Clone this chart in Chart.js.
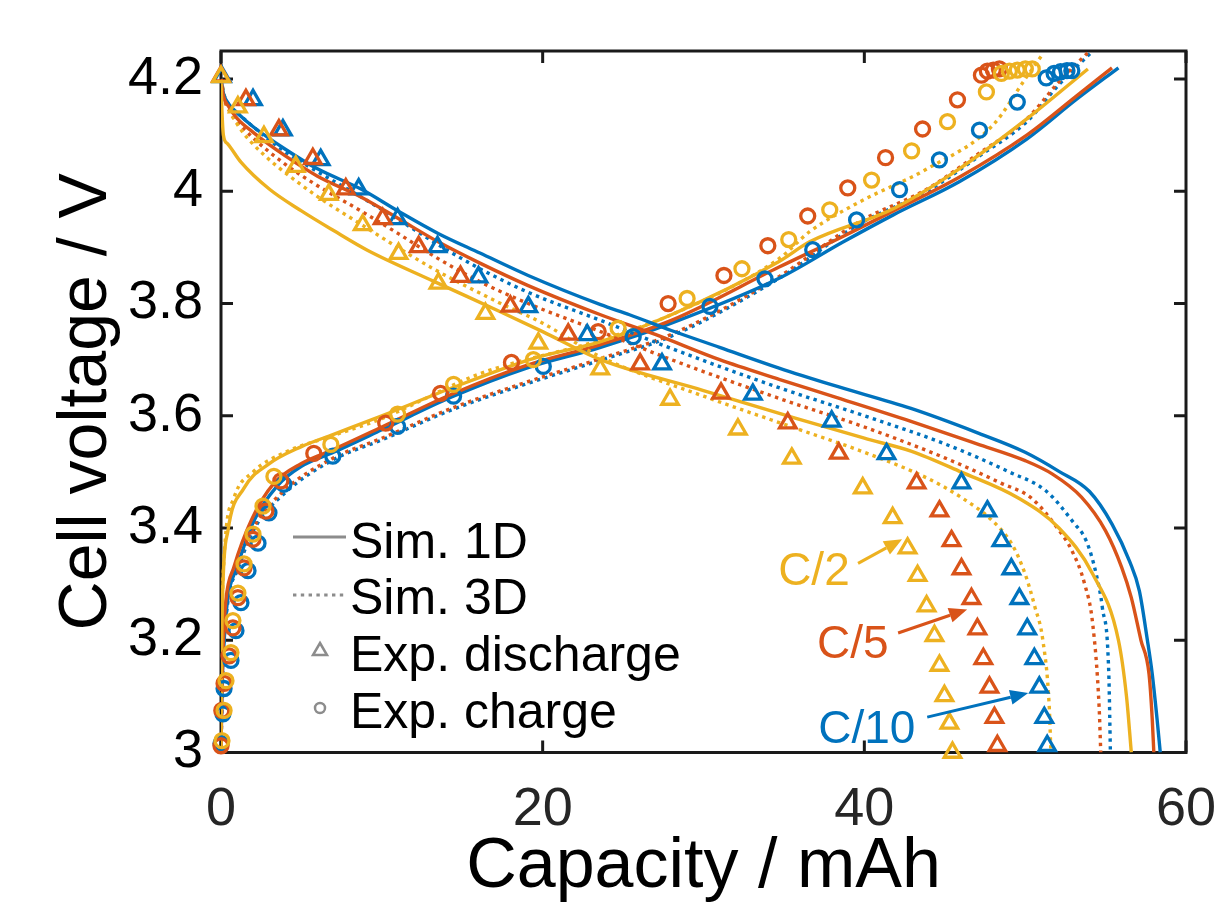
<!DOCTYPE html>
<html>
<head>
<meta charset="utf-8">
<title>Cell voltage vs capacity</title>
<script src="https://cdn.jsdelivr.net/npm/chart.js@4.4.1/dist/chart.umd.min.js"></script>
<style>
  body { margin: 0; background: #fff; }
  #wrap { width: 1221px; height: 910px; }
</style>
</head>
<body>
<div id="wrap"><canvas id="kurve" width="1221" height="910"></canvas></div>
<script>
// Axes
const capTicks = [0, 20, 40, 60];
const voltTicks = [3, 3.2, 3.4, 3.6, 3.8, 4, 4.2];
const voltTickLabels = ['3', '3.2', '3.4', '3.6', '3.8', '4', '4.2'];

// C-rates and colours
const rates = ['C/10', 'C/5', 'C/2'];
const rateColors = ['#0072BD', '#D95319', '#EDB120'];

// Simulated discharge, 1D (solid)  [capacity mAh, voltage V]
const dis1D_C10 = [[0,4.2],[0.15,4.175],[0.5,4.155],[1,4.14],[2,4.115],[4,4.075],[6,4.04],[8.7,4.004],[11,3.965],[13.5,3.925],[16.1,3.89],[19.1,3.85],[23.6,3.798],[25.4,3.78],[28,3.752],[31,3.722],[34.7,3.685],[38,3.655],[42.9,3.613],[47,3.57],[50,3.535],[52.1,3.501],[54,3.465],[55.4,3.407],[56.5,3.34],[57.1,3.288],[57.6,3.2],[57.9,3.14],[58.2,3.06],[58.4,3.0]];
const dis1D_C5 = [[0,4.2],[0.15,4.17],[0.5,4.15],[1,4.13],[2,4.105],[4,4.063],[6,4.027],[8.7,3.99],[11,3.952],[13.5,3.91],[16.1,3.872],[19.1,3.832],[23.6,3.78],[27,3.745],[31,3.70],[34.7,3.665],[38,3.635],[42.9,3.59],[47,3.55],[50,3.52],[51.7,3.496],[53.5,3.455],[55,3.395],[56,3.33],[56.6,3.276],[57.2,3.2],[57.7,3.14],[57.9,3.06],[58,3.0]];
const dis1D_C2 = [[0,4.2],[0.05,4.15],[0.15,4.1],[0.4,4.085],[1.24,4.052],[3,4.004],[5,3.965],[7,3.93],[9.1,3.895],[13.2,3.84],[17.4,3.785],[20,3.75],[23.6,3.70],[30,3.645],[35.7,3.596],[40,3.56],[42.9,3.537],[46,3.5],[49.6,3.453],[52.1,3.40],[54.2,3.318],[55.8,3.2],[56.3,3.1],[56.6,3.0]];

// Simulated discharge, 3D (dotted)
const dis3D_C10 = [[0,4.2],[0.2,4.17],[0.6,4.15],[1,4.14],[2,4.115],[4,4.07],[6,4.035],[8.7,3.99],[11,3.95],[13.5,3.905],[16.1,3.862],[19.1,3.82],[23.6,3.77],[28,3.72],[34.7,3.65],[40,3.60],[45,3.55],[49,3.50],[51.3,3.466],[53,3.41],[53.8,3.377],[54.4,3.32],[54.8,3.258],[55.2,3.14],[55.3,3.0]];
const dis3D_C5 = [[0,4.2],[0.2,4.165],[0.6,4.14],[1,4.125],[2,4.095],[4,4.048],[6,4.01],[8.7,3.965],[11,3.925],[13.5,3.88],[16.1,3.839],[19.1,3.80],[23.6,3.75],[28,3.70],[34.7,3.631],[40,3.58],[45,3.525],[48.5,3.48],[50.4,3.453],[52,3.40],[52.9,3.36],[53.7,3.3],[54.2,3.229],[54.6,3.08],[54.7,3.0]];
const dis3D_C2 = [[0,4.2],[0.3,4.16],[1,4.12],[1.86,4.088],[4.96,4.012],[9.1,3.934],[13.2,3.862],[17.4,3.80],[20,3.765],[23.6,3.705],[30,3.635],[35.7,3.578],[40,3.535],[43.9,3.489],[46,3.455],[48,3.412],[49.2,3.37],[50,3.318],[50.6,3.26],[51.1,3.2],[51.5,3.08],[51.6,3.0]];

// Simulated charge, 1D (solid)
const cha1D_C10 = [[0,3.0],[0.05,3.1],[0.2,3.2],[0.4,3.27],[1,3.33],[2,3.41],[3.5,3.475],[5,3.51],[7,3.535],[10,3.575],[14.3,3.633],[19,3.685],[23.6,3.722],[28,3.765],[34.7,3.845],[38.7,3.91],[41.8,3.958],[45.9,4.017],[50.1,4.093],[53.2,4.164],[55.8,4.22]];
const cha1D_C5 = [[0,3.0],[0.05,3.1],[0.15,3.2],[0.3,3.27],[0.8,3.33],[1.9,3.415],[3.3,3.48],[5,3.515],[7,3.54],[10,3.58],[14.3,3.638],[19,3.69],[23.6,3.727],[28,3.77],[34.7,3.865],[38.7,3.92],[41.8,3.965],[45.9,4.025],[50.1,4.10],[53.2,4.17],[55.4,4.22]];
const cha1D_C2 = [[0,3.0],[0.02,3.1],[0.05,3.2],[0.12,3.3],[0.43,3.395],[1.43,3.471],[2.92,3.513],[5,3.545],[7,3.567],[10,3.60],[14.3,3.649],[19.4,3.702],[23.6,3.732],[28,3.78],[34.7,3.875],[36.6,3.91],[41.8,3.969],[45.9,4.04],[50.1,4.129],[53.9,4.218]];

// Simulated charge, 3D (dotted)
const cha3D_C10 = [[0,3.0],[0.1,3.14],[0.35,3.25],[1.1,3.33],[2.1,3.4],[4,3.463],[7,3.522],[10,3.557],[14.3,3.61],[19,3.657],[23.6,3.699],[28,3.742],[34.7,3.845],[39.7,3.942],[43.9,4.0],[47,4.06],[50.1,4.124],[52.1,4.19],[54.2,4.25]];
const cha3D_C5 = [[0,3.0],[0.1,3.15],[0.3,3.25],[1,3.33],[2,3.4],[3.9,3.466],[7,3.525],[10,3.56],[14.3,3.613],[19,3.66],[23.6,3.702],[28,3.745],[34.7,3.848],[39.7,3.946],[43.9,4.004],[47,4.065],[50.1,4.129],[52.1,4.195],[54,4.25]];
const cha3D_C2 = [[0,3.0],[0.05,3.2],[0.2,3.35],[0.8,3.453],[2,3.5],[4,3.535],[7,3.565],[10,3.595],[16.1,3.675],[23.6,3.735],[28,3.78],[34.7,3.88],[36.6,3.928],[39.7,3.981],[43.9,4.04],[48,4.118],[50,4.2],[51.1,4.245]];

// Experiment, discharge (triangles)
const expDis_C10 = [[0.06,4.204],[1.99,4.163],[3.85,4.109],[6.2,4.056],[8.56,4.004],[10.98,3.951],[13.46,3.901],[16.01,3.847],[19.11,3.794],[22.77,3.744],[27.42,3.692],[33.07,3.638],[37.97,3.59],[41.38,3.532],[46.04,3.48],[47.65,3.43],[48.52,3.377],[49.14,3.327],[49.64,3.274],[50.13,3.22],[50.57,3.167],[50.88,3.116],[51.19,3.062],[51.37,3.012]];
const expDis_C5 = [[0,4.205],[1.55,4.163],[3.6,4.109],[5.71,4.058],[7.76,4.004],[10.05,3.951],[12.29,3.901],[14.89,3.848],[17.99,3.795],[21.59,3.745],[26.06,3.692],[31.09,3.64],[35.24,3.587],[38.41,3.533],[43.25,3.48],[44.67,3.43],[45.42,3.377],[46.04,3.327],[46.66,3.274],[47.03,3.22],[47.4,3.167],[47.78,3.116],[48.09,3.062],[48.27,3.012]];
const expDis_C2 = [[0,4.204],[1.05,4.15],[2.67,4.097],[4.65,4.044],[6.7,3.994],[8.81,3.94],[11.04,3.889],[13.52,3.836],[16.44,3.782],[19.73,3.729],[23.58,3.683],[27.92,3.629],[32.14,3.576],[35.49,3.524],[39.9,3.471],[41.76,3.418],[42.69,3.364],[43.31,3.315],[43.87,3.261],[44.36,3.208],[44.67,3.155],[44.98,3.101],[45.29,3.052],[45.48,3.0]];

// Experiment, charge (circles)
const expCha_C10 = [[0,3.016],[0.12,3.069],[0.19,3.114],[0.62,3.164],[0.93,3.217],[1.24,3.267],[1.68,3.324],[2.3,3.373],[2.98,3.427],[3.91,3.478],[6.95,3.528],[10.98,3.581],[14.46,3.635],[20.04,3.688],[25.63,3.741],[30.4,3.795],[33.82,3.844],[36.79,3.896],[39.52,3.949],[42.19,4.003],[44.67,4.056],[47.16,4.109],[49.51,4.159],[51.31,4.202],[51.8,4.21],[52.2,4.213],[52.6,4.215],[52.9,4.215]];
const expCha_C5 = [[0,3.012],[0.05,3.075],[0.19,3.123],[0.5,3.172],[0.74,3.222],[1.05,3.276],[1.43,3.329],[1.99,3.38],[2.79,3.43],[3.72,3.484],[5.77,3.533],[10.24,3.587],[13.65,3.64],[18.06,3.695],[23.45,3.75],[27.8,3.8],[31.27,3.85],[34.0,3.903],[36.48,3.956],[38.97,4.006],[41.32,4.06],[43.62,4.111],[45.79,4.163],[47.28,4.207],[47.65,4.214],[48.02,4.216],[48.4,4.218]];
const expCha_C2 = [[0.06,3.021],[0.19,3.075],[0.31,3.128],[0.62,3.178],[0.74,3.235],[1.05,3.284],[1.43,3.336],[1.99,3.389],[2.61,3.439],[3.29,3.492],[6.83,3.549],[10.98,3.603],[14.46,3.656],[19.42,3.7],[24.69,3.756],[28.98,3.809],[32.39,3.862],[35.3,3.914],[37.85,3.967],[40.45,4.02],[42.94,4.072],[45.17,4.124],[47.59,4.177],[48.52,4.21],[49.02,4.214],[49.51,4.216],[50.01,4.218],[50.44,4.218]];

// Rate labels with arrows: text anchor, arrow start, arrow end (data coords)
const labelPos = [[37.13,3.017],[37.06,3.168],[34.64,3.298]];
const arrowFrom = [[43.91,3.063],[42.10,3.213],[39.61,3.337]];
const arrowTo = [[50.19,3.106],[46.39,3.255],[42.35,3.380]];

const legendItems = ['Sim. 1D', 'Sim. 3D', 'Exp. discharge', 'Exp. charge'];

const FONT = "'Liberation Sans', Arial, Helvetica, sans-serif";

function toXY(points) {
  return points.map(p => ({x: p[0], y: p[1]}));
}

function simLine(points, color, dotted) {
  return {
    data: toXY(points),
    showLine: true,
    borderColor: color,
    borderWidth: 3.4,
    borderDash: dotted ? [3.4, 4.4] : [],
    cubicInterpolationMode: 'monotone',
    pointRadius: 0,
    order: 2
  };
}

function expPoints(points, color, style) {
  return {
    data: toXY(points),
    showLine: false,
    pointStyle: style,
    pointRadius: style === 'triangle' ? 9.5 : 7,
    pointBorderWidth: 3.3,
    pointBorderColor: color,
    pointBackgroundColor: 'rgba(0,0,0,0)',
    clip: false,
    order: 1
  };
}

const sims = [
  [dis1D_C10, dis1D_C5, dis1D_C2, false],
  [dis3D_C10, dis3D_C5, dis3D_C2, true],
  [cha1D_C10, cha1D_C5, cha1D_C2, false],
  [cha3D_C10, cha3D_C5, cha3D_C2, true]
];
const datasets = [];
sims.forEach(s => {
  for (let i = 2; i >= 0; i--) datasets.push(simLine(s[i], rateColors[i], s[3]));
});
const exps = [[expDis_C10, expDis_C5, expDis_C2, 'triangle'], [expCha_C10, expCha_C5, expCha_C2, 'circle']];
exps.forEach(s => {
  for (let i = 2; i >= 0; i--) datasets.push(expPoints(s[i], rateColors[i], s[3]));
});

// Box and inward tick marks, under the data
const frame = {
  id: 'frame',
  beforeDatasetsDraw(chart) {
    const {ctx, chartArea: a, scales: {x, y}} = chart;
    ctx.save();
    ctx.strokeStyle = '#1a1a1a';
    ctx.lineWidth = 3;
    ctx.strokeRect(a.left, a.top, a.right - a.left, a.bottom - a.top);
    ctx.beginPath();
    voltTicks.forEach(v => {
      const py = y.getPixelForValue(v);
      ctx.moveTo(a.left, py); ctx.lineTo(a.left + 12, py);
      ctx.moveTo(a.right, py); ctx.lineTo(a.right - 12, py);
    });
    capTicks.forEach(c => {
      const px = x.getPixelForValue(c);
      ctx.moveTo(px, a.bottom); ctx.lineTo(px, a.bottom - 12);
      ctx.moveTo(px, a.top); ctx.lineTo(px, a.top + 12);
    });
    ctx.stroke();
    ctx.restore();
  }
};

// Legend and rate labels
const extras = {
  id: 'extras',
  afterDraw(chart) {
    const {ctx, scales: {x, y}} = chart;
    ctx.save();

    // legend (gray samples)
    const gray = '#8c8c8c';
    const rowY = [539.5, 595.5, 652.5, 709.5];
    ctx.strokeStyle = gray;
    ctx.lineWidth = 3;
    ctx.beginPath(); ctx.moveTo(293, 537); ctx.lineTo(346, 537); ctx.stroke();
    ctx.setLineDash([3.4, 4.4]);
    ctx.beginPath(); ctx.moveTo(293, 595); ctx.lineTo(346, 595); ctx.stroke();
    ctx.setLineDash([]);
    ctx.lineWidth = 2.5;
    ctx.beginPath();
    ctx.moveTo(320, 643); ctx.lineTo(327, 655); ctx.lineTo(313, 655); ctx.closePath();
    ctx.stroke();
    ctx.beginPath(); ctx.arc(320, 708, 5, 0, Math.PI * 2); ctx.stroke();
    ctx.fillStyle = '#000';
    ctx.font = '50px ' + FONT;
    ctx.textBaseline = 'alphabetic';
    ctx.textAlign = 'left';
    legendItems.forEach((t, i) => ctx.fillText(t, 350, rowY[i] + 18));

    // rate labels with arrows
    ctx.font = '46px ' + FONT;
    rates.forEach((r, i) => {
      const c = rateColors[i];
      ctx.fillStyle = c;
      ctx.strokeStyle = c;
      ctx.fillText(r, x.getPixelForValue(labelPos[i][0]), y.getPixelForValue(labelPos[i][1]));
      const x0 = x.getPixelForValue(arrowFrom[i][0]), y0 = y.getPixelForValue(arrowFrom[i][1]);
      const x1 = x.getPixelForValue(arrowTo[i][0]), y1 = y.getPixelForValue(arrowTo[i][1]);
      const ang = Math.atan2(y1 - y0, x1 - x0);
      const len = 18, half = 7.5;
      const bx = x1 - len * Math.cos(ang), by = y1 - len * Math.sin(ang);
      ctx.lineWidth = 3;
      ctx.beginPath(); ctx.moveTo(x0, y0); ctx.lineTo(bx, by); ctx.stroke();
      ctx.beginPath();
      ctx.moveTo(x1, y1);
      ctx.lineTo(bx + half * Math.sin(ang), by - half * Math.cos(ang));
      ctx.lineTo(bx - half * Math.sin(ang), by + half * Math.cos(ang));
      ctx.closePath();
      ctx.fill();
    });
    ctx.restore();
  }
};

new Chart(document.getElementById('kurve'), {
  type: 'scatter',
  data: { datasets: datasets },
  options: {
    responsive: false,
    animation: false,
    events: [],
    layout: { padding: { top: 51, right: 35, left: 0, bottom: 0 } },
    plugins: { legend: { display: false }, tooltip: { enabled: false } },
    scales: {
      x: {
        type: 'linear',
        min: 0, max: 60,
        grid: { display: false },
        border: { display: false },
        afterBuildTicks: s => { s.ticks = capTicks.map(v => ({ value: v })); },
        afterFit: s => { s.height = 157.5; s.paddingLeft = 0; s.paddingRight = 0; },
        ticks: { color: '#262626', padding: 17, font: { family: FONT, size: 54 }, maxRotation: 0 },
        title: { display: true, text: 'Capacity / mAh', color: '#000', font: { family: FONT, size: 70 }, padding: { top: 0, bottom: 0 } }
      },
      y: {
        type: 'linear',
        min: 3, max: 4.25,
        grid: { display: false },
        border: { display: false },
        afterBuildTicks: s => { s.ticks = voltTicks.map(v => ({ value: v })); },
        afterFit: s => { s.width = 221; s.paddingTop = 0; s.paddingBottom = 0; },
        ticks: {
          color: '#000', padding: 10, font: { family: FONT, size: 54 },
          callback: (v) => voltTickLabels[voltTicks.indexOf(Math.round(v * 10) / 10)]
        },
        title: { display: true, text: 'Cell voltage / V', color: '#000', font: { family: FONT, size: 68 }, padding: { top: 46, bottom: 0 } }
      }
    }
  },
  plugins: [frame, extras]
});
</script>
</body>
</html>
